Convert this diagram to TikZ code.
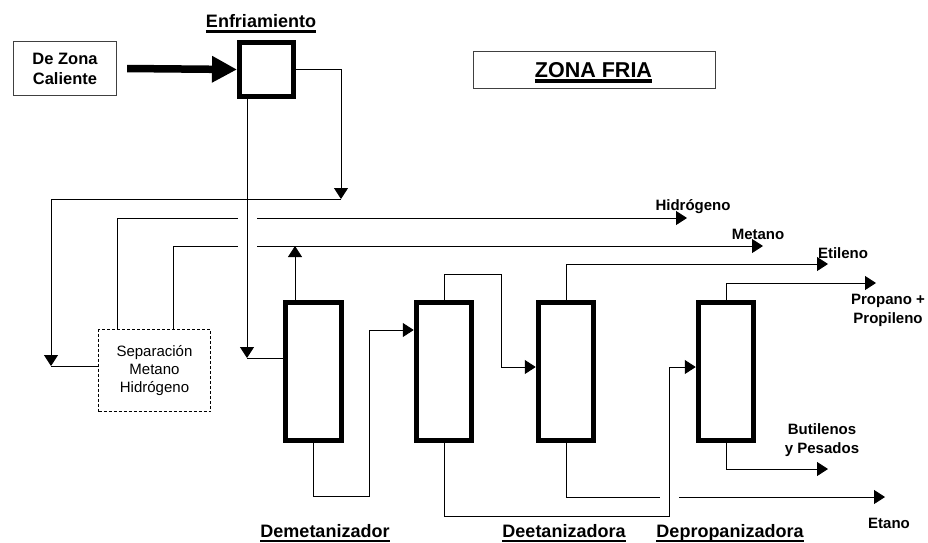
\documentclass[tikz,border=0pt]{standalone}
\usepackage{fontspec}
\setmainfont{Liberation Sans}
\usetikzlibrary{arrows.meta,calc}
\newcommand{\ulbox}[3]{\setbox0\hbox{#3}\rlap{\vrule height -#1 depth #2 width \wd0}\box0}
\begin{document}
\begin{tikzpicture}[x=1pt,y=-1pt,
  thinline/.style={line width=0.9pt},
  tip/.style={-{Triangle[length=11pt,width=14pt]}},
  column/.style={draw, line width=5pt, minimum width=55.5pt, minimum height=138pt, inner sep=0pt},
  lbl/.style={font=\fontsize{15}{19}\selectfont\bfseries, inner sep=0pt, align=center, anchor=base},
  title/.style={font=\fontsize{18}{22}\selectfont\bfseries, inner sep=0pt, anchor=base},
  frame/.style={draw=black!75, line width=1.2pt, inner sep=0pt}
]
\useasboundingbox (0,0) rectangle (928,542);

% boxes
\node[frame, minimum width=103pt, minimum height=54pt, align=center,
      font=\fontsize{16.5}{20}\selectfont\bfseries] (dzc) at (65,68.5) {De Zona\\Caliente};
\node[draw, line width=5pt, minimum width=54pt, minimum height=54pt, inner sep=0pt] (enf) at (266.5,69.5) {};
\node[title] (enftxt) at (261,27.3) {\ulbox{2.7pt}{5.4pt}{Enfriamiento}};
\node[frame, minimum width=242pt, minimum height=37pt] (zona) at (594.5,70) {};
\node[font=\fontsize{21.5}{24}\selectfont\bfseries, inner sep=0pt, anchor=base] (zonatxt) at (593.5,77.3) {\ulbox{2pt}{6pt}{ZONA FRIA}};
\node[draw, line width=1pt, dash pattern=on 3pt off 2pt, minimum width=112pt, minimum height=82pt,
      inner sep=0pt, align=center, font=\fontsize{15}{18}\selectfont] (sep) at (154.5,370.5) {Separación\\Metano\\Hidrógeno};

\node[column] (col1) at (313.5,371.5) {};
\node[column] (col2) at (444,371.5) {};
\node[column] (col3) at (566,371.5) {};
\node[column] (col4) at (726,371.5) {};

\node[title] (l1) at (325,537) {\ulbox{2.5pt}{4.7pt}{Demetanizador}};
\node[title] (l2) at (564,537) {\ulbox{2.5pt}{4.7pt}{Deetanizadora}};
\node[title] (l3) at (730,537) {\ulbox{2.5pt}{4.7pt}{Depropanizadora}};

% coordinates
\coordinate (tA) at (341,199);
\coordinate (lA) at (51,366);
\coordinate (eB) at (247,358);
\coordinate (xh) at (117,218);
\coordinate (hA) at (238,218);
\coordinate (hB) at (257,218);
\coordinate (hEnd) at (687,218);
\coordinate (xm) at (173,246);
\coordinate (mA) at (238,246);
\coordinate (mB) at (257,246);
\coordinate (mEnd) at (763,246);
\coordinate (c1t) at (295,246);
\coordinate (c1b) at (369,496);
\coordinate (f2) at (369,330);
\coordinate (c2t) at (501,274);
\coordinate (f3) at (501,367);
\coordinate (c2b) at (669,516);
\coordinate (f4) at (669,367);
\coordinate (etEnd) at (828,264);
\coordinate (g1) at (660,497);
\coordinate (g2) at (679,497);
\coordinate (etaEnd) at (885,497);
\coordinate (ppEnd) at (876,283);
\coordinate (buEnd) at (828,469);

% thick feed
\draw[line width=7.5pt, -{Triangle[length=25pt,width=25pt]}] ([xshift=10pt]dzc.east) -- (enf.west);

% connectors
\draw[thinline, tip] (enf.east) -| (tA);
\draw[thinline, tip] (tA) -| (lA);
\draw[thinline] (lA) -- (lA -| sep.west);
\draw[thinline, tip] (enf.south -| eB) -- (eB);
\draw[thinline] (eB) -- (eB -| col1.west);

\draw[thinline] (sep.north -| xh) |- (hA);
\draw[thinline, tip] (hB) -- (hEnd);
\draw[thinline] (sep.north -| xm) |- (mA);
\draw[thinline, tip] (mB) -- (mEnd);
\draw[thinline, tip] (col1.north -| c1t) -- (c1t);

\draw[thinline, tip] (col1.south) |- (c1b) -- (f2) -- (f2 -| col2.west);
\draw[thinline, tip] (col2.north) |- (c2t) -- (f3) -- (f3 -| col3.west);
\draw[thinline, tip] (col2.south) |- (c2b) -- (f4) -- (f4 -| col4.west);
\draw[thinline, tip] (col3.north) |- (etEnd);
\draw[thinline] (col3.south) |- (g1);
\draw[thinline, tip] (g2) -- (etaEnd);
\draw[thinline, tip] (col4.north) |- (ppEnd);
\draw[thinline, tip] (col4.south) |- (buEnd);

% labels
\node[lbl] (hyd) at (693,210.5) {Hidrógeno};
\node[lbl] (met) at (758,239) {Metano};
\node[lbl] (eti) at (843,258) {Etileno};
\node[lbl] (pro) at (888,323) {Propano +\\Propileno};
\node[lbl] (but) at (822,453) {Butilenos\\y Pesados};
\node[lbl] (eta) at (889,528) {Etano};
\end{tikzpicture}
\end{document}
